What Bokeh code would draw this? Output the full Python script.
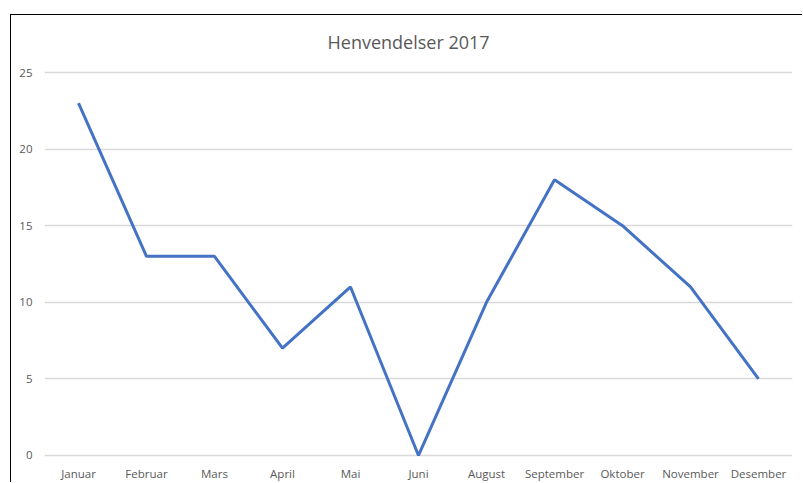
from bokeh.plotting import figure
from bokeh.models import Range1d, FixedTicker
from bokeh.embed import file_html
from bokeh.resources import INLINE

months = ["Januar", "Februar", "Mars", "April", "Mai", "Juni", "August",
          "September", "Oktober", "November", "Desember"]
values = [23, 13, 13, 7, 11, 0, 10, 18, 15, 11, 5]
y_ticks = [0, 5, 10, 15, 20, 25]

p = figure(x_range=months, y_range=Range1d(-0.2, 25.2),
           width=792, height=468, output_backend="svg", toolbar_location=None,
           title="Henvendelser 2017",
           min_border_left=33, min_border_right=11, min_border_top=40, min_border_bottom=0)
p.margin = (14, 0, 0, 10)
p.styles = {"border-top": "1px solid #000000", "border-left": "1px solid #000000"}

p.line(months, values, line_color="#4472C4", line_width=3)

p.title.align = "left"
p.title.offset = 283
p.title.vertical_align = "top"
p.title.text_font = "Open Sans"
p.title.text_font_size = "18px"
p.title.text_font_style = "normal"
p.title.text_color = "#595959"
p.title.standoff = 28

p.outline_line_color = None
p.xgrid.grid_line_color = None
p.ygrid.grid_line_color = "#d9d9d9"
p.ygrid.grid_line_width = 1.3
p.yaxis.ticker = FixedTicker(ticks=y_ticks)

for ax in (p.xaxis[0], p.yaxis[0]):
    ax.axis_line_color = None
    ax.major_tick_line_color = None
    ax.minor_tick_line_color = None
    ax.major_tick_out = 0
    ax.minor_tick_out = 0
    ax.major_label_text_font = "Open Sans"
    ax.major_label_text_font_size = "11.5px"
    ax.major_label_text_color = "#595959"
p.xaxis.major_label_standoff = 7
p.yaxis.major_label_standoff = 12

open("out.html", "w").write(file_html(p, INLINE))
